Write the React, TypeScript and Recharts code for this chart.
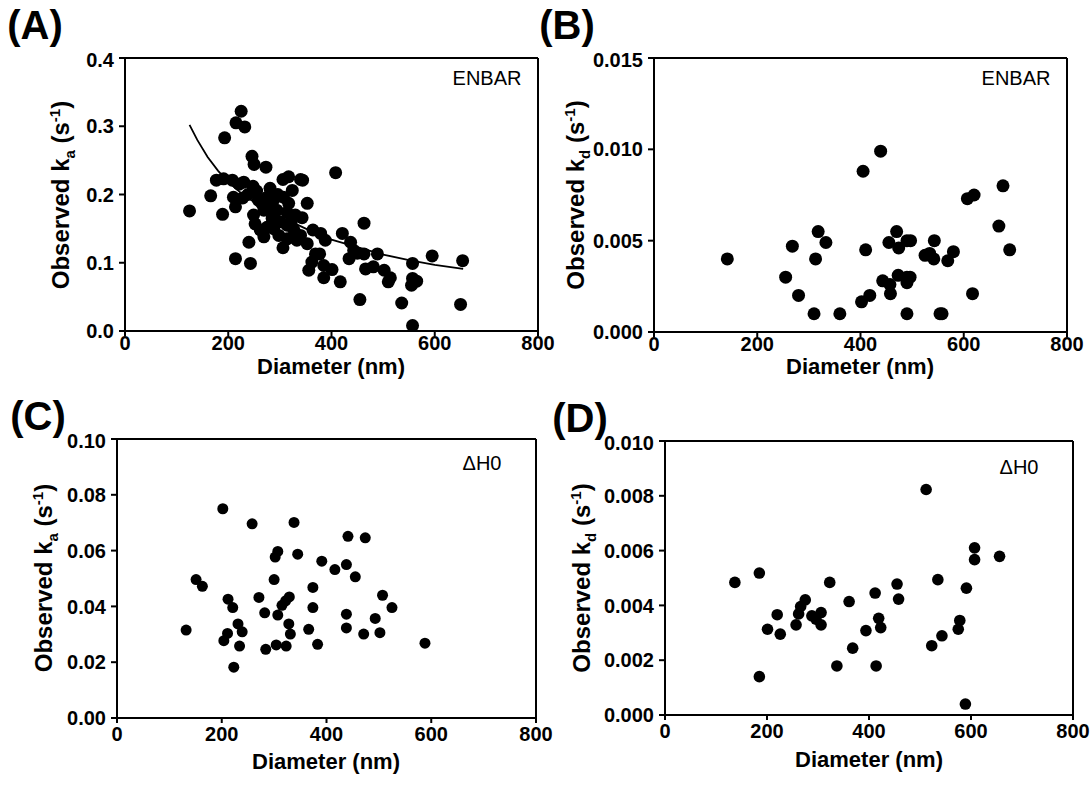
import React from 'react'
import { ScatterChart, Scatter, XAxis, YAxis, ReferenceLine } from 'recharts'

const FONT = '"Liberation Sans", Arial, sans-serif'

// Panel A: ENBAR, observed ka vs diameter
const aDiameter = [
  125, 225, 215, 232, 193, 246, 250, 273, 177, 191, 208, 221, 230, 248, 281, 306, 317, 340, 344, 408,
  166, 210, 228, 214, 189, 258, 275, 324, 353, 265, 288, 307, 317, 249, 269, 294, 314, 343, 252, 262,
  275, 288, 269, 314, 327, 240, 214, 243, 306, 314, 333, 353, 364, 379, 388, 369, 377, 356, 362, 385,
  401, 385, 417, 421, 437, 434, 443, 463, 463, 466, 455, 450, 489, 481, 502, 514, 510, 557, 557, 565,
  555, 595, 654, 536, 650, 557, 285, 300, 330, 296, 255, 238, 280, 322, 340, 298,
]
const aKa = [
  0.176, 0.322, 0.305, 0.299, 0.283, 0.256, 0.244, 0.24, 0.221, 0.223, 0.221, 0.215, 0.218, 0.212, 0.209, 0.222, 0.226, 0.222, 0.221, 0.232,
  0.198, 0.196, 0.195, 0.182, 0.171, 0.192, 0.196, 0.206, 0.187, 0.187, 0.192, 0.196, 0.187, 0.17, 0.177, 0.177, 0.174, 0.166, 0.157, 0.148,
  0.152, 0.15, 0.138, 0.155, 0.148, 0.13, 0.106, 0.099, 0.122, 0.135, 0.133, 0.128, 0.148, 0.143, 0.133, 0.113, 0.113, 0.089, 0.101, 0.096,
  0.09, 0.078, 0.072, 0.143, 0.13, 0.106, 0.118, 0.113, 0.158, 0.091, 0.046, 0.114, 0.113, 0.094, 0.089, 0.078, 0.072, 0.099, 0.077, 0.073,
  0.067, 0.11, 0.103, 0.041, 0.039, 0.008, 0.165, 0.16, 0.17, 0.2, 0.205, 0.2, 0.18, 0.16, 0.14, 0.14,
]
// fitted curve drawn in panel A
const aFitDiameter = [125, 140, 160, 180, 200, 225, 250, 300, 350, 400, 450, 500, 550, 600, 655]
const aFitKa = [0.302, 0.28, 0.255, 0.235, 0.218, 0.202, 0.189, 0.168, 0.15, 0.134, 0.123, 0.112, 0.104, 0.097, 0.091]

// Panel B: ENBAR, observed kd
const bDiameter = [
  142, 268, 255, 280, 310, 313, 318, 333, 360, 405, 439, 402, 410, 418, 443, 455, 457, 458, 470, 474,
  473, 490, 497, 490, 496, 490, 490, 525, 534, 542, 543, 558, 554, 569, 580, 607, 620, 617, 668, 676, 689,
]
const bKd = [
  0.004, 0.0047, 0.003, 0.002, 0.001, 0.004, 0.0055, 0.0049, 0.001, 0.0088, 0.0099, 0.00165, 0.0045, 0.002, 0.0028, 0.0049, 0.0026, 0.0021, 0.0055, 0.0046,
  0.0031, 0.005, 0.005, 0.003, 0.003, 0.0027, 0.001, 0.0042, 0.0043, 0.004, 0.005, 0.001, 0.001, 0.0039, 0.0044, 0.0073, 0.0075, 0.0021, 0.0058, 0.008, 0.0045,
]

// Panel C: ΔH0, observed ka
const cDiameter = [
  202, 258, 338, 441, 474, 307, 302, 345, 391, 416, 438, 151, 163, 300, 374, 455, 271, 212, 221, 329,
  322, 315, 374, 282, 307, 328, 331, 366, 438, 438, 132, 231, 239, 211, 204, 234, 284, 304, 323, 383,
  223, 507, 525, 493, 471, 502, 588,
]
const cKa = [
  0.075, 0.0696, 0.0701, 0.0651, 0.0646, 0.0597, 0.0577, 0.0587, 0.0562, 0.0532, 0.055, 0.0496, 0.0472, 0.0496, 0.0468, 0.0506, 0.0432, 0.0426, 0.0396, 0.0434,
  0.042, 0.0404, 0.0396, 0.0377, 0.0369, 0.0337, 0.0301, 0.0318, 0.0372, 0.0323, 0.0315, 0.0337, 0.0309, 0.0303, 0.0277, 0.0258, 0.0246, 0.0262, 0.0258, 0.0264,
  0.0182, 0.044, 0.0396, 0.0357, 0.0301, 0.0306, 0.0268,
]

// Panel D: ΔH0, observed kd
const dDiameter = [
  137, 185, 185, 201, 220, 226, 257, 262, 266, 275, 288, 306, 306, 296, 323, 337, 361, 368, 394, 412,
  414, 419, 423, 455, 458, 512, 523, 535, 543, 575, 578, 591, 589, 607, 607, 656,
]
const dKd = [
  0.00484, 0.00518, 0.0014, 0.00313, 0.00366, 0.00295, 0.00329, 0.00369, 0.00396, 0.0042, 0.00362, 0.00374, 0.00329, 0.0035, 0.00484, 0.00179, 0.00414, 0.00244, 0.00308, 0.00445,
  0.00179, 0.00353, 0.00319, 0.00478, 0.00423, 0.00823, 0.00253, 0.00494, 0.00289, 0.00313, 0.00345, 0.00463, 0.0004, 0.0061, 0.00567, 0.00579,
]

const xTicks = [0, 200, 400, 600, 800]

const pts = (xs: number[], ys: number[]) => xs.map((x, i) => ({ x, y: ys[i] }))

const YW = 80
const MT = 10
const MR = 30
const XH = 40

type PanelProps = {
  left: number
  top: number
  w: number
  h: number
  data: { x: number; y: number }[]
  yMax: number
  yTicks: number[]
  digits: number
  r: number
  xGap: number
  fit?: { x: number; y: number }[]
}

function Panel({ left, top, w, h, data, yMax, yTicks, digits, r, xGap, fit }: PanelProps) {
  const tick = { fill: '#000', fontSize: 20, fontWeight: 700, fontFamily: FONT }
  const dot = (p: any) => <circle cx={p.cx} cy={p.cy} r={r} fill="#000" />
  return (
    <div style={{ position: 'absolute', left: left - YW, top: top - MT }}>
      <ScatterChart width={YW + w + MR} height={MT + h + XH} margin={{ top: MT, right: MR, bottom: 0, left: 0 }}>
        <XAxis
          type="number"
          dataKey="x"
          domain={[0, 800]}
          ticks={xTicks}
          height={XH}
          stroke="#000"
          strokeWidth={2}
          tickSize={5}
          tickMargin={xGap}
          tick={tick}
        />
        <YAxis
          type="number"
          dataKey="y"
          domain={[0, yMax]}
          ticks={yTicks}
          tickFormatter={(v: number) => v.toFixed(digits)}
          width={YW}
          stroke="#000"
          strokeWidth={2}
          tickSize={6}
          tickMargin={5}
          tick={tick}
          allowDataOverflow
        />
        <ReferenceLine y={yMax} stroke="#000" strokeWidth={2} />
        <ReferenceLine x={800} stroke="#000" strokeWidth={2} />
        <Scatter data={data} shape={dot} isAnimationActive={false} />
        {fit && (
          <Scatter
            data={fit}
            line={{ stroke: '#000', strokeWidth: 1.8 }}
            lineType="joint"
            shape={() => <g />}
            isAnimationActive={false}
          />
        )}
      </ScatterChart>
    </div>
  )
}

function Txt({ x, y, size, bold, children }: { x: number; y: number; size: number; bold?: boolean; children: React.ReactNode }) {
  return (
    <div
      style={{
        position: 'absolute',
        left: x,
        top: y,
        transform: 'translate(-50%, -50%)',
        fontFamily: FONT,
        fontSize: size,
        fontWeight: bold ? 700 : 400,
        lineHeight: 1,
        whiteSpace: 'nowrap',
        color: '#000',
      }}
    >
      {children}
    </div>
  )
}

function YTitle({ x, y, sub }: { x: number; y: number; sub: string }) {
  return (
    <div
      style={{
        position: 'absolute',
        left: x,
        top: y,
        transform: 'translate(-50%, -50%) rotate(-90deg)',
        fontFamily: FONT,
        fontSize: 24,
        fontWeight: 700,
        lineHeight: 1,
        whiteSpace: 'nowrap',
        color: '#000',
      }}
    >
      Observed k<sub style={{ fontSize: 15 }}>{sub}</sub> (s<sup style={{ fontSize: 15 }}>-1</sup>)
    </div>
  )
}

export default function App() {
  return (
    <div style={{ position: 'absolute', left: 0, top: 0, width: 1090, height: 785, background: '#fff', overflow: 'hidden' }}>
      <Panel left={125} top={58} w={413} h={273} data={pts(aDiameter, aKa)} yMax={0.4} yTicks={[0, 0.1, 0.2, 0.3, 0.4]} digits={1} r={6.5} xGap={0} fit={pts(aFitDiameter, aFitKa)} />
      <Panel left={654} top={58} w={413} h={274} data={pts(bDiameter, bKd)} yMax={0.015} yTicks={[0, 0.005, 0.01, 0.015]} digits={3} r={6.5} xGap={0} />
      <Panel left={117} top={439} w={419} h={279} data={pts(cDiameter, cKa)} yMax={0.1} yTicks={[0, 0.02, 0.04, 0.06, 0.08, 0.1]} digits={2} r={5.5} xGap={4} />
      <Panel left={665} top={441} w={408} h={274} data={pts(dDiameter, dKd)} yMax={0.01} yTicks={[0, 0.002, 0.004, 0.006, 0.008, 0.01]} digits={3} r={5.8} xGap={4} />

      <Txt x={35} y={25} size={40} bold>(A)</Txt>
      <Txt x={567} y={25} size={40} bold>(B)</Txt>
      <Txt x={38} y={416} size={40} bold>(C)</Txt>
      <Txt x={580} y={418} size={40} bold>(D)</Txt>

      <Txt x={487} y={78} size={20}>ENBAR</Txt>
      <Txt x={1016} y={78} size={20}>ENBAR</Txt>
      <Txt x={482} y={463} size={20}>ΔH0</Txt>
      <Txt x={1019} y={467} size={20}>ΔH0</Txt>

      <Txt x={331} y={367} size={22} bold>Diameter (nm)</Txt>
      <Txt x={860} y={367} size={22} bold>Diameter (nm)</Txt>
      <Txt x={326} y={762} size={22} bold>Diameter (nm)</Txt>
      <Txt x={869} y={760} size={22} bold>Diameter (nm)</Txt>

      <YTitle x={62} y={195} sub="a" />
      <YTitle x={577} y={195} sub="d" />
      <YTitle x={45} y={578} sub="a" />
      <YTitle x={583} y={578} sub="d" />
    </div>
  )
}
